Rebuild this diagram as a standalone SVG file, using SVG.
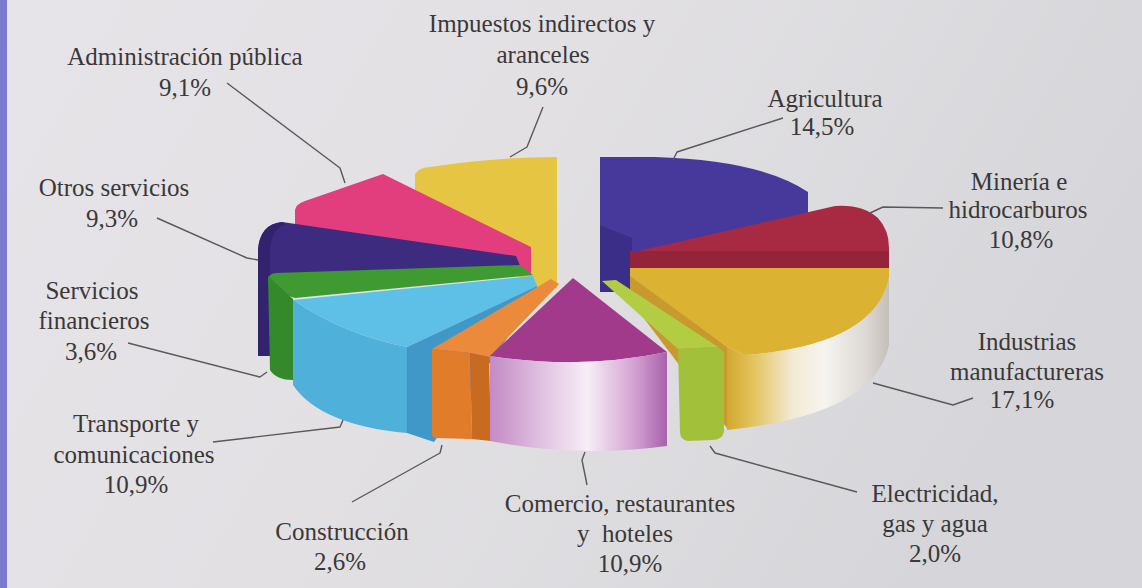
<svg xmlns="http://www.w3.org/2000/svg" width="1142" height="588" viewBox="0 0 1142 588">
<style>
.t text{font-family:'Liberation Serif','Times New Roman',serif;font-size:25px;fill:#3a3838;text-anchor:middle;white-space:pre}
.ln{fill:none;stroke:#5a5858;stroke-width:1.4;stroke-linejoin:round}
</style>
<defs>
<linearGradient id="bg" x1="0" y1="0" x2="1" y2="0.3">
<stop offset="0" stop-color="#e6e4e8"/><stop offset="0.5" stop-color="#e2e0e3"/><stop offset="1" stop-color="#d6d6da"/>
</linearGradient>
<linearGradient id="comSide" gradientUnits="userSpaceOnUse" x1="490" y1="0" x2="667" y2="0">
<stop offset="0" stop-color="#c48ac4"/><stop offset="0.35" stop-color="#e6cce6"/><stop offset="0.55" stop-color="#f6eef6"/><stop offset="0.8" stop-color="#d6a6d4"/><stop offset="1" stop-color="#a862ac"/>
</linearGradient>
<linearGradient id="indSide" gradientUnits="userSpaceOnUse" x1="727" y1="0" x2="890" y2="0">
<stop offset="0" stop-color="#d2a830"/><stop offset="0.15" stop-color="#e2c25a"/><stop offset="0.4" stop-color="#f2ead2"/><stop offset="0.6" stop-color="#f6f4f0"/><stop offset="0.85" stop-color="#dcd8d4"/><stop offset="1" stop-color="#c4beb8"/>
</linearGradient>
</defs>
<rect width="1142" height="588" fill="url(#bg)"/>
<rect width="7" height="588" fill="#7c7acc"/>

<g class="t">
<g id="impuestos">
<path d="M415,174 Q418,168 430,167 Q495,157 557,157 L557,288 L535,290 L415,190 Z" fill="#e5c542"/>
<text x="542" y="32">Impuestos indirectos y</text><text x="543" y="63">aranceles</text><text x="542" y="95">9,6%</text>
</g>
<g id="agricultura">
<path d="M600,157 L655,157 Q760,160 808,192 L808,232 L632,292 L600,292 Z" fill="#47399b"/>
<path d="M600,225 L632,238 L632,292 L600,292 Z" fill="#3b2e88"/>
<text x="825" y="107">Agricultura</text><text x="822" y="135">14,5%</text>
</g>
<g id="administracion">
<path d="M295,210 Q296,204 305,201 L383,174 L531,247 L531,275 L295,226 Z" fill="#e23d7c"/>
<text x="185" y="65">Administración pública</text><text x="185" y="96">9,1%</text>
</g>
<g id="otros">
<path d="M258,250 Q260,224 282,222 L516,256 L521,268 L270,276 L270,356 L258,356 Z" fill="#3d2b80"/>
<path d="M258,250 Q260,224 282,222 L286,224 Q270,230 270,252 L270,356 L258,356 Z" fill="#33226e"/>
<text x="114" y="196">Otros servicios</text><text x="112" y="227">9,3%</text>
</g>
<g id="financieros">
<path d="M268,280 Q268,274 276,273 L520,265 L533,275 L295,298 L270,290 Z" fill="#3f9a32"/>
<path d="M268,276 L293,299 L293,380 Q276,380 270,370 Z" fill="#348a2a"/>
<text x="92" y="299">Servicios</text><text x="94" y="329">financieros</text><text x="91" y="360">3,6%</text>
</g>
<g id="mineria">
<path d="M630,253 L835,206 Q862,204 878,218 Q889,230 889,248 L889,270 L630,270 Z" fill="#a82a42"/>
<path d="M630,251 L889,251 L889,270 L630,270 Z" fill="#94243a"/>
<text x="1019" y="190">Minería e</text><text x="1018" y="218">hidrocarburos</text><text x="1021" y="248">10,8%</text>
</g>
<g id="industrias">
<path d="M630,272 L727,347 L727,428 L630,300 Z" fill="#c8992e"/>
<path d="M630,268 L889,268 L889,278 Q875,345 745,355 L727,347 L630,276 Z" fill="#dcb232"/>
<path d="M727,347 L745,355 Q875,345 889,278 L889,345 Q875,415 727,430 Z" fill="url(#indSide)"/>
<text x="1027" y="350">Industrias</text><text x="1027" y="380">manufactureras</text><text x="1022" y="408">17,1%</text>
</g>
<g id="transporte">
<path d="M293,300 Q345,335 407,347 L407,433 Q320,425 293,385 Z" fill="#4fb0da"/>
<path d="M293,300 L533,276 L537,286 L407,347 Q345,335 293,300 Z" fill="#5ec0e6"/>
<path d="M407,347 L537,286 L537,296 L434,442 L407,433 Z" fill="#3f98c8"/>
<text x="136" y="432">Transporte y</text><text x="134" y="463">comunicaciones</text><text x="136" y="493">10,9%</text>
</g>
<g id="construccion">
<path d="M432,349 L551,279 L559,284 L489,357 L470,353 Z" fill="#ea8a3a"/>
<path d="M432,349 L470,353 L472,439 L435,438 Q432,437 432,434 Z" fill="#e07c2a"/>
<path d="M470,353 L489,357 L491,441 L472,439 Z" fill="#c86a20"/>
<text x="342" y="540">Construcción</text><text x="340" y="570">2,6%</text>
</g>
<g id="electricidad">
<path d="M602,281 L616,280 L718,347 L678,349 Z" fill="#b2cc44"/>
<path d="M678,349 L718,347 L724,352 L724,432 Q722,440 712,440 L688,441 Q680,440 680,432 Z" fill="#a2c03a"/>
<text x="935" y="502">Electricidad,</text><text x="935" y="532">gas y agua</text><text x="935" y="562">2,0%</text>
</g>
<g id="comercio">
<path d="M573,278 L667,352 Q580,370 490,356 Z" fill="#a23a8c"/>
<path d="M490,356 Q580,370 667,352 L667,446 Q578,458 490,441 Z" fill="url(#comSide)"/>
<text x="620" y="512">Comercio, restaurantes</text><text x="625" y="542">y  hoteles</text><text x="630" y="572">10,9%</text>
</g>
</g>

<g id="connectors">
<polyline class="ln" points="227,83 340,168 345,183"/>
<polyline class="ln" points="157,218 247,258 258,260"/>
<polyline class="ln" points="128,343 260,377 267,372"/>
<polyline class="ln" points="213,442 340,427 343,420"/>
<polyline class="ln" points="352,502 440,453 442,445"/>
<polyline class="ln" points="587,485 582,460 585,452"/>
<polyline class="ln" points="857,492 715,453 710,446"/>
<polyline class="ln" points="973,398 953,405 873,383"/>
<polyline class="ln" points="943,208 883,207 870,213"/>
<polyline class="ln" points="783,118 677,152 673,160"/>
<polyline class="ln" points="543,107 527,147 510,157"/>
</g>
</svg>
